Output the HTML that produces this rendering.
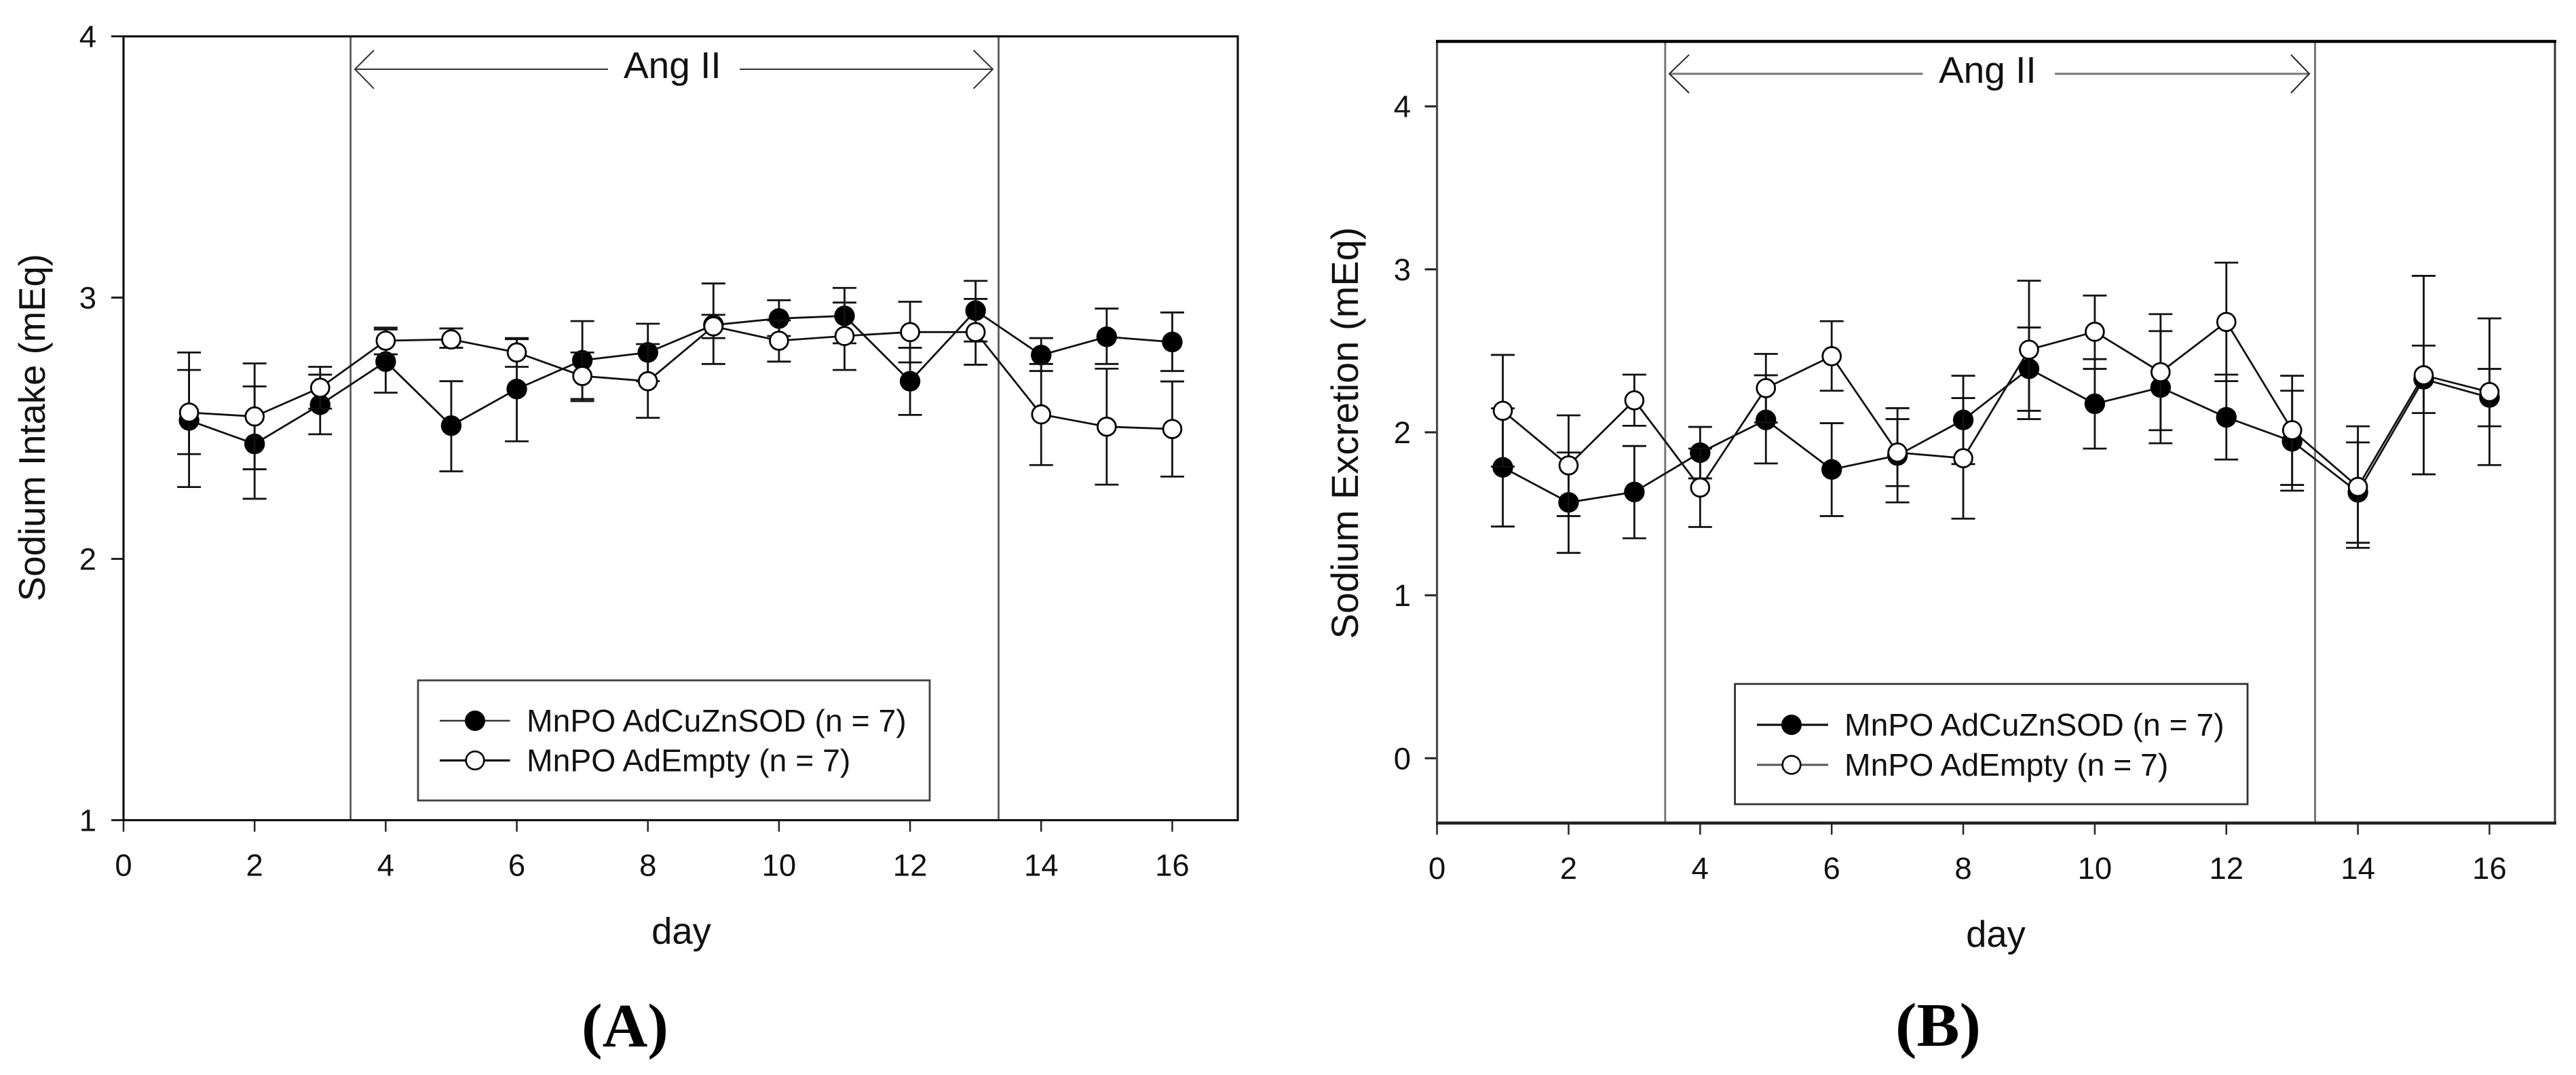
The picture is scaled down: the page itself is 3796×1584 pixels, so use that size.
<!DOCTYPE html>
<html>
<head>
<meta charset="utf-8">
<title>Sodium intake and excretion</title>
<style>
html,body{margin:0;padding:0;background:#fff;width:3796px;height:1584px;overflow:hidden}
svg{display:block}
text{font-family:"Liberation Sans",sans-serif;fill:#111}
.tick{font-size:45.5px}
.leg{font-size:46.3px}
.panel-tag{font-family:"Liberation Serif",serif;font-weight:bold;font-size:91px;fill:#000}
</style>
</head>
<body>
<svg id="figure" xmlns="http://www.w3.org/2000/svg" width="3796" height="1584" viewBox="0 0 3796 1584">
  <rect width="3796" height="1584" fill="#fff"/>

  <g id="panel-a">
    <line x1="516.6" y1="54" x2="516.6" y2="1208" stroke="#555" stroke-width="2.7"/>
    <line x1="1471.5" y1="54" x2="1471.5" y2="1208" stroke="#555" stroke-width="2.7"/>
    <g fill="none" stroke="#333" stroke-width="2">
      <path d="M896 102H523M551 74L523 102L551 130.6"/>
      <path d="M1090 102H1463M1434.6 74L1463 102L1434.6 130.6"/>
    </g>
    <text x="919" y="115" style="font-size:55px">Ang II</text>
    <g id="plot-a"></g>
    <rect x="182" y="53.6" width="1642" height="1154.9" fill="none" stroke="#111" stroke-width="3.2"/>
    <rect x="616" y="1002.5" width="754" height="177" fill="#fff" stroke="#444" stroke-width="2.8"/>
    <g>
      <line x1="648" y1="1062" x2="751.5" y2="1062" stroke="#333" stroke-width="2.6"/>
      <circle cx="700" cy="1062" r="15" fill="#000"/>
      <text class="leg" x="776" y="1078">MnPO AdCuZnSOD (n = 7)</text>
    </g>
    <g>
      <line x1="648" y1="1120.5" x2="751.5" y2="1120.5" stroke="#111" stroke-width="3.2"/>
      <circle cx="700" cy="1120.5" r="13.3" fill="#fff" stroke="#000" stroke-width="2.6"/>
      <text class="leg" x="776" y="1136.5">MnPO AdEmpty (n = 7)</text>
    </g>
    <text transform="translate(66,630) rotate(-90)" text-anchor="middle" style="font-size:54.5px">Sodium Intake (mEq)</text>
    <text x="1004" y="1390.5" text-anchor="middle" style="font-size:54.5px">day</text>
    <text class="panel-tag" x="921" y="1542" text-anchor="middle" textLength="128" lengthAdjust="spacingAndGlyphs">(A)</text>
  </g>

  <g id="panel-b">
    <line x1="2453.8" y1="61" x2="2453.8" y2="1212" stroke="#777" stroke-width="3"/>
    <line x1="3411.5" y1="61" x2="3411.5" y2="1212" stroke="#777" stroke-width="3"/>
    <g fill="none">
      <path d="M2833.5 108.7H2460" stroke="#777" stroke-width="3"/>
      <path d="M3028 108.7H3403" stroke="#777" stroke-width="3"/>
      <path d="M2489 80.7L2460 108.7L2489 137" stroke="#222" stroke-width="2"/>
      <path d="M3376 80.7L3403 108.7L3376 137" stroke="#222" stroke-width="2"/>
    </g>
    <text x="2857" y="122" style="font-size:55px">Ang II</text>
    <g id="plot-b"></g>
    <line x1="2117.6" y1="61" x2="2117.6" y2="1213" stroke="#444" stroke-width="3"/>
    <line x1="3765" y1="61" x2="3765" y2="1213" stroke="#333" stroke-width="3"/>
    <line x1="2116" y1="61" x2="3767" y2="61" stroke="#000" stroke-width="4.5"/>
    <line x1="2116" y1="1212.8" x2="3767" y2="1212.8" stroke="#222" stroke-width="4.5"/>
    <rect x="2556.6" y="1007.8" width="755.4" height="177.2" fill="#fff" stroke="#333" stroke-width="2.8"/>
    <g>
      <line x1="2589" y1="1068" x2="2694" y2="1068" stroke="#111" stroke-width="3.2"/>
      <circle cx="2640" cy="1068" r="15" fill="#000"/>
      <text class="leg" x="2718" y="1084">MnPO AdCuZnSOD (n = 7)</text>
    </g>
    <g>
      <line x1="2589" y1="1127" x2="2694" y2="1127" stroke="#555" stroke-width="3"/>
      <circle cx="2640" cy="1127" r="13.3" fill="#fff" stroke="#000" stroke-width="2.6"/>
      <text class="leg" x="2718" y="1143">MnPO AdEmpty (n = 7)</text>
    </g>
    <text transform="translate(2001,638) rotate(-90)" text-anchor="middle" style="font-size:56px">Sodium Excretion (mEq)</text>
    <text x="2941" y="1395" text-anchor="middle" style="font-size:54.5px">day</text>
    <text class="panel-tag" x="2856" y="1541" text-anchor="middle" textLength="126" lengthAdjust="spacingAndGlyphs">(B)</text>
  </g>
</svg>

<script>
const days = [1,2,3,4,5,6,7,8,9,10,11,12,13,14,15,16];
const xTickLabels = [0,2,4,6,8,10,12,14,16];
const yTickLabelsA = [1,2,3,4];
const yTickLabelsB = [0,1,2,3,4];

const intakeFilledMean  = [2.53,2.44,2.59,2.755,2.51,2.65,2.76,2.79,2.895,2.92,2.93,2.68,2.95,2.78,2.85,2.83];
const intakeFilledUpper = [2.79,2.66,2.705,2.878,2.68,2.845,2.91,2.90,3.054,2.99,3.037,2.808,3.064,2.845,2.958,2.943];
const intakeFilledLower = [2.275,2.23,2.477,2.636,2.335,2.45,2.612,2.68,2.746,2.853,2.825,2.551,2.832,2.719,2.746,2.719];
const intakeOpenMean    = [2.56,2.545,2.655,2.835,2.84,2.79,2.70,2.68,2.89,2.835,2.853,2.868,2.868,2.553,2.506,2.497];
const intakeOpenUpper   = [2.723,2.748,2.735,2.885,2.882,2.841,2.79,2.822,2.934,2.913,2.981,2.984,2.995,2.746,2.728,2.679];
const intakeOpenLower   = [2.401,2.343,2.575,2.783,2.808,2.735,2.604,2.54,2.845,2.755,2.723,2.752,2.743,2.359,2.284,2.315];

const excretionFilledMean  = [1.785,1.57,1.634,1.875,2.076,1.772,1.858,2.076,2.39,2.175,2.275,2.092,1.945,1.632,2.326,2.214];
const excretionFilledUpper = [2.147,1.876,1.916,2.033,2.35,2.056,2.148,2.347,2.643,2.449,2.621,2.354,2.255,1.938,2.532,2.389];
const excretionFilledLower = [1.422,1.26,1.35,1.717,1.809,1.486,1.57,1.805,2.132,1.90,1.933,1.833,1.642,1.322,2.118,2.037];
const excretionOpenMean    = [2.132,1.797,2.196,1.661,2.271,2.467,1.876,1.841,2.507,2.617,2.369,2.677,2.013,1.665,2.35,2.247];
const excretionOpenUpper   = [2.475,2.104,2.354,1.90,2.481,2.682,2.081,2.21,2.93,2.839,2.725,3.041,2.347,2.037,2.96,2.699];
const excretionOpenLower   = [1.79,1.486,2.04,1.419,2.06,2.255,1.67,1.47,2.081,2.389,2.013,2.314,1.677,1.291,1.742,1.799];

const SVG_NS = 'http://www.w3.org/2000/svg';
function make(tag, attrs, parent) {
  const el = document.createElementNS(SVG_NS, tag);
  for (const k in attrs) el.setAttribute(k, attrs[k]);
  parent.appendChild(el);
  return el;
}

const xA = function (d) { return 182 + d * 96.59; };
const yA = function (v) { return 1208.5 - (v - 1) * 385; };
const xB = function (d) { return 2117.6 + d * 96.93; };
const yB = function (v) { return 1117.3 - v * 240.15; };

function drawSeries(group, x, y, means, uppers, lowers, filled, key) {
  const g = make('g', {}, group);
  
  
  days.forEach(function (d, i) {
    const cx = x(d);
    const bar = make('path', {
      d: 'M' + cx + ' ' + y(uppers[i]) + 'V' + y(lowers[i]) +
         'M' + (cx - 17.5) + ' ' + y(uppers[i]) + 'H' + (cx + 17.5) +
         'M' + (cx - 17.5) + ' ' + y(lowers[i]) + 'H' + (cx + 17.5),
      fill: 'none', stroke: '#111', 'stroke-width': 2.8
    }, g);
    
    
  });
  const pts = days.map(function (d, i) { return x(d) + ',' + y(means[i]); }).join(' ');
  const line = make('polyline', { points: pts, fill: 'none', stroke: '#111', 'stroke-width': 2.8 }, g);
  
  
  days.forEach(function (d, i) {
    const m = make('circle', {
      cx: x(d), cy: y(means[i]), r: filled ? 15.2 : 13.4,
      fill: filled ? '#000' : '#fff', stroke: '#000', 'stroke-width': filled ? 0 : 2.8
    }, g);
    
    
  });
}

function drawAxes(group, x, y, yLabels, baseY, leftX, labelRight, key) {
  xTickLabels.forEach(function (t) {
    const tick = make('line', { x1: x(t), x2: x(t), y1: baseY, y2: baseY + 17, stroke: '#222', 'stroke-width': 2.5 }, group);
    
    
    const label = make('text', { x: x(t), y: baseY + 82, 'text-anchor': 'middle', 'class': 'tick' }, group);
    label.textContent = String(t);
    
    
  });
  yLabels.forEach(function (t) {
    const tick = make('line', { x1: leftX - 18, x2: leftX, y1: y(t), y2: y(t), stroke: '#222', 'stroke-width': 3 }, group);
    
    
    const label = make('text', { x: labelRight, y: y(t) + 16, 'text-anchor': 'end', 'class': 'tick' }, group);
    label.textContent = String(t);
    
    
  });
}

const plotA = document.getElementById('plot-a');
const plotB = document.getElementById('plot-b');
drawAxes(plotA, xA, yA, yTickLabelsA, 1208.5, 182, 142, 'a');
drawAxes(plotB, xB, yB, yTickLabelsB, 1212.8, 2117.6, 2079, 'b');
drawSeries(plotA, xA, yA, intakeFilledMean, intakeFilledUpper, intakeFilledLower, true, 'adcuznsod-a');
drawSeries(plotA, xA, yA, intakeOpenMean, intakeOpenUpper, intakeOpenLower, false, 'adempty-a');
drawSeries(plotB, xB, yB, excretionFilledMean, excretionFilledUpper, excretionFilledLower, true, 'adcuznsod-b');
drawSeries(plotB, xB, yB, excretionOpenMean, excretionOpenUpper, excretionOpenLower, false, 'adempty-b');
</script>
</body>
</html>
